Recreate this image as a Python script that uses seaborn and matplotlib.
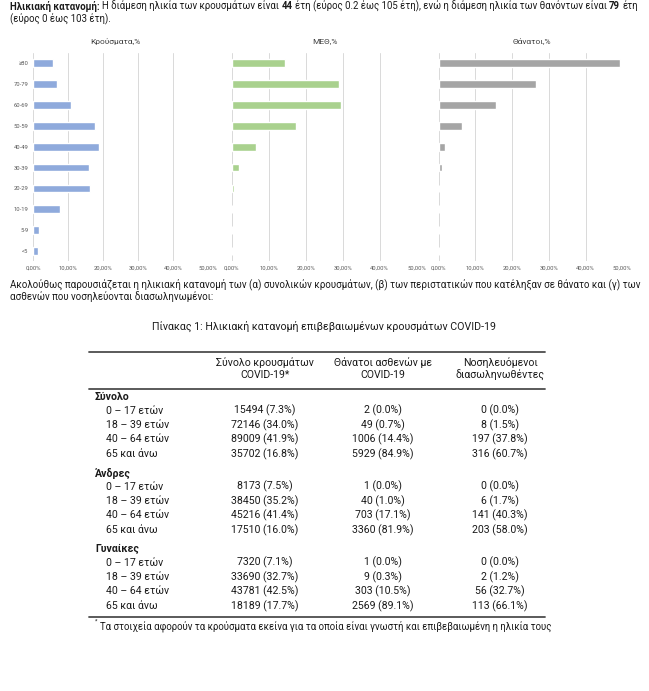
import matplotlib
matplotlib.use("Agg")
import matplotlib.pyplot as plt
import seaborn as sns
import pandas as pd
from matplotlib.lines import Line2D

# ---------------- data ----------------
age_groups = ['≥80', '70-79', '60-69', '50-59', '40-49', '30-39', '20-29', '10-19', '5-9', '<5']
cases_pct = [5.7, 6.7, 10.7, 17.7, 18.7, 16.0, 16.1, 7.5, 1.7, 1.2]
icu_pct = [14.4, 29.1, 29.6, 17.3, 6.5, 2.0, 0.6, 0.2, 0.1, 0.1]
deaths_pct = [49.5, 26.5, 15.5, 6.4, 1.8, 0.8, 0.2, 0.2, 0.0, 0.2]
panel_titles = ['Κρούσματα,%', 'ΜΕΘ,%', 'Θάνατοι,%']
x_ticks = [0, 10, 20, 30, 40, 50]

table_headers = [('Σύνολο κρουσμάτων', 'COVID-19*'),
                 ('Θάνατοι ασθενών με', 'COVID-19'),
                 ('Νοσηλευόμενοι', 'διασωληνωθέντες')]
sections = ['Σύνολο', 'Άνδρες', 'Γυναίκες']
row_labels = ['0 – 17 ετών', '18 – 39 ετών', '40 – 64 ετών', '65 και άνω']
total_rows = [['15494 (7.3%)', '2 (0.0%)', '0 (0.0%)'],
              ['72146 (34.0%)', '49 (0.7%)', '8 (1.5%)'],
              ['89009 (41.9%)', '1006 (14.4%)', '197 (37.8%)'],
              ['35702 (16.8%)', '5929 (84.9%)', '316 (60.7%)']]
men_rows = [['8173 (7.5%)', '1 (0.0%)', '0 (0.0%)'],
            ['38450 (35.2%)', '40 (1.0%)', '6 (1.7%)'],
            ['45216 (41.4%)', '703 (17.1%)', '141 (40.3%)'],
            ['17510 (16.0%)', '3360 (81.9%)', '203 (58.0%)']]
women_rows = [['7320 (7.1%)', '1 (0.0%)', '0 (0.0%)'],
              ['33690 (32.7%)', '9 (0.3%)', '2 (1.2%)'],
              ['43781 (42.5%)', '303 (10.5%)', '56 (32.7%)'],
              ['18189 (17.7%)', '2569 (89.1%)', '113 (66.1%)']]

intro_parts = [('Ηλικιακή κατανομή:', True),
               ('Η διάμεση ηλικία των κρουσμάτων είναι', False), ('44', True),
               ('έτη (εύρος 0.2 έως 105 έτη), ενώ η διάμεση ηλικία των θανόντων είναι', False),
               ('79', True), ('έτη', False)]
intro_line2 = '(εύρος 0 έως 103 έτη).'
para_line1 = ('Ακολούθως παρουσιάζεται η ηλικιακή κατανομή των (α) συνολικών κρουσμάτων, '
              '(β) των περιστατικών που κατέληξαν σε θάνατο και (γ) των')
para_line2 = 'ασθενών που νοσηλεύονται διασωληνωμένοι:'
table_title = 'Πίνακας 1: Ηλικιακή κατανομή επιβεβαιωμένων κρουσμάτων COVID-19'
footnote = 'Τα στοιχεία αφορούν τα κρούσματα εκείνα για τα οποία είναι γνωστή και επιβεβαιωμένη η ηλικία τους'

# ---------------- style ----------------
sns.set_theme(style='white')
plt.rcParams['font.family'] = ['Roboto', 'DejaVu Sans']

W, H = 649, 691
fig = plt.figure(figsize=(W / 100, H / 100), dpi=100)
fig.patch.set_facecolor('white')
renderer = fig.canvas.get_renderer()
INK = '#1a1a1a'


def fpos(x, y):
    return x / W, 1 - y / H


def put(x, y, s, size, bold=False, ha='left', color=INK):
    return fig.text(*fpos(x, y), s, fontsize=size, ha=ha, va='center',
                    fontweight='bold' if bold else 'normal', color=color)


def width_of(s, size, bold=False):
    t = fig.text(0, 0, s, fontsize=size, fontweight='bold' if bold else 'normal')
    w = t.get_window_extent(renderer).width
    t.remove()
    return w


def space_w(size, bold=False):
    return width_of('x x', size, bold) - width_of('xx', size, bold)


def rich_width(parts, size):
    total = sum(width_of(s, size, b) for s, b in parts)
    return total + sum(space_w(size, b) for s, b in parts[:-1])


def rich(x, y, parts, size):
    for s, b in parts:
        t = put(x, y, s, size, b)
        x += t.get_window_extent(renderer).width + space_w(size, b)


def hline(y, x0, x1, lw=1.3):
    fig.add_artist(Line2D([x0 / W, x1 / W], [1 - y / H] * 2, transform=fig.transFigure,
                          lw=lw, color='#4d4d4d'))


# ---------------- intro text ----------------
text_size = 10 * 626 / rich_width(intro_parts, 10)
rich(10, 6, intro_parts, text_size)
put(10, 19, intro_line2, text_size)

# ---------------- bar panels ----------------
df = pd.DataFrame({'age': age_groups, 'cases': cases_pct, 'icu': icu_pct, 'deaths': deaths_pct})
panels = [('cases', '#8FAADC', 33.3, 208.3, 115),
          ('icu', '#A9D18E', 231.7, 416.7, 325),
          ('deaths', '#A5A5A5', 438.7, 622.3, 532)]
top, bottom = 52.9, 261.4
for i, (col, color, x0, x1, tx) in enumerate(panels):
    ax = fig.add_axes([x0 / W, 1 - bottom / H, (x1 - x0) / W, (bottom - top) / H])
    sns.barplot(data=df, x=col, y='age', color=color, width=0.37, saturation=1,
                orient='h', ax=ax)
    ax.set_xlim(0, 50)
    ax.set_xticks(x_ticks)
    ax.set_xticklabels([f'{v:.2f}%'.replace('.', ',') for v in x_ticks])
    ax.xaxis.grid(True, color='#D9D9D9', lw=0.7)
    ax.set_axisbelow(True)
    for s in ax.spines.values():
        s.set_visible(False)
    ax.set_xlabel('')
    ax.set_ylabel('')
    ax.tick_params(axis='both', length=0, labelsize=4.2, labelcolor='#595959')
    ax.tick_params(axis='x', pad=3.2)
    ax.tick_params(axis='y', pad=3.5)
    if i > 0:
        ax.set_yticklabels([])
    put(tx, 41, panel_titles[i], 6, ha='center', color='#404040')

# ---------------- paragraph + table title ----------------
para_size = 10 * 627 / width_of(para_line1, 10)
put(10, 284, para_line1, para_size)
put(10, 297, para_line2, para_size)
title_size = 10 * 342 / width_of(table_title, 10)
put(324, 326, table_title, title_size, ha='center')

# ---------------- table ----------------
col_x = [265, 383, 500]
tab_size = 10 * 61.7 / width_of('15494 (7.3%)', 10)
hline(351.5, 89, 545)
for cx, (h1, h2) in zip(col_x, table_headers):
    put(cx, 363, h1, tab_size, ha='center')
    put(cx, 375, h2, tab_size, ha='center')
hline(388.5, 89, 545)

y = 397
for name, rows in zip(sections, [total_rows, men_rows, women_rows]):
    put(95, y, name, tab_size, bold=True)
    y += 13.5
    for label, vals in zip(row_labels, rows):
        put(106, y, label, tab_size)
        for cx, v in zip(col_x, vals):
            put(cx, y, v, tab_size, ha='center')
        y += 14.5
    y += 4.5
hline(616.7, 89, 545)
foot_size = 10 * 448 / width_of(footnote, 10)
put(95, 621.5, '*', foot_size * 0.6)
put(100, 626.5, footnote, foot_size)

fig.savefig('out.png', dpi=100, facecolor='white')
